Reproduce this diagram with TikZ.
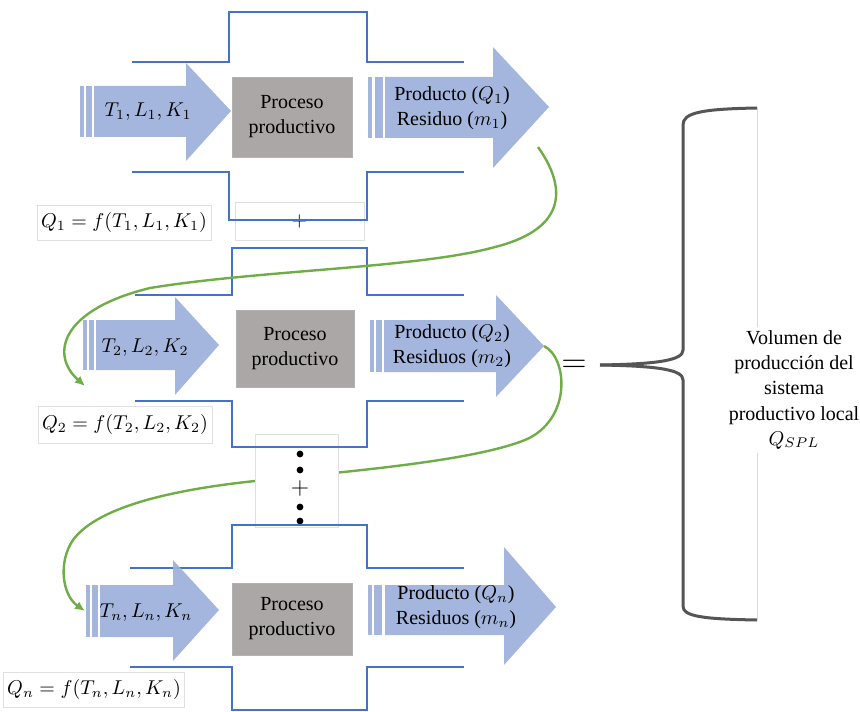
\documentclass[tikz,border=0pt]{standalone}
\usepackage{fontspec}
\setmainfont{Liberation Serif}
\usetikzlibrary{arrows.meta,positioning,calc}

\definecolor{flowblue}{RGB}{157,176,219}
\definecolor{lineblue}{RGB}{68,114,196}
\definecolor{boxgrey}{RGB}{171,167,166}
\definecolor{linkgreen}{RGB}{112,173,71}
\definecolor{bracegrey}{RGB}{85,85,85}

\begin{document}
\begin{tikzpicture}[
        x=0.5pt, y=-0.5pt,
        font=\fontsize{10}{12.5}\selectfont,
        procsty/.style={
            draw=black!30, fill=boxgrey, rectangle,
            minimum width=60pt, minimum height=40pt,
            align=center, inner sep=0pt,
        },
        flowsty/.style={fill=flowblue, fill opacity=0.92},
        wallsty/.style={draw=lineblue, line width=1.1pt},
        eqsty/.style={
            draw=black!12, rectangle,
            minimum height=18pt, inner sep=2pt,
        },
        sumsty/.style={draw=black!12, rectangle, inner sep=0pt},
        linksty/.style={draw=linkgreen, line width=1.2pt, -{Latex[length=5pt,width=4.5pt]}},
        bracesty/.style={draw=bracegrey, line width=1.5pt},
        txtsty/.style={align=center, inner sep=0pt},
    ]
    \useasboundingbox (0,0) rectangle (860,711);

    % faint box with the sum sign between block 1 and block 2
    \node[sumsty, minimum width=64.5pt, minimum height=19pt] (sum1) at (299.5,221) {$+$};

    % walls of block 1 and upper wall of block 2
    \draw[wallsty] (132,62) -- (229,62) -- (229,12) -- (367,12) -- (367,62) -- (464,62);
    \draw[wallsty] (132,172) -- (229,172) -- (229,220) -- (367,220) -- (367,172) -- (464,172);
    \draw[wallsty] (135,295) -- (232,295) -- (232,248) -- (367,248) -- (367,295) -- (464,295);

    % links from one output to the next input
    \coordinate (out1low) at (538,147);
    \coordinate (in2end) at (85,386);
    \coordinate (out2tip) at (544,346);
    \coordinate (in3end) at (85,611);
    \draw[linksty] (out1low) .. controls (565,185) and (570,228) .. (495,247)
        .. controls (420,268) and (260,270) .. (150,288)
        .. controls (60,310) and (50,355) .. (in2end);
    \draw[linksty] (out2tip) .. controls (568,358) and (572,420) .. (525,440)
        .. controls (470,462) and (340,472) .. (255,481)
        .. controls (160,491) and (95,510) .. (73,540)
        .. controls (58,562) and (62,595) .. (in3end);

    % the dots between block 2 and block n
    \node[sumsty, fill=white, minimum width=41.5pt, minimum height=46.5pt] (more) at (296.5,480.5) {};
    \fill (300,454) circle (1.7pt);
    \fill (300,470) circle (1.7pt);
    \node (sum2) at (300,488) {\large $+$};
    \fill (300,507) circle (1.7pt);
    \fill (300,521) circle (1.7pt);

    % remaining walls
    \draw[wallsty] (135,401) -- (232,401) -- (232,447) -- (367,447) -- (367,401) -- (464,401);
    \draw[wallsty] (130,568) -- (232,568) -- (232,525) -- (367,525) -- (367,568) -- (464,568);
    \draw[wallsty] (130,667) -- (232,667) -- (232,710) -- (367,710) -- (367,667) -- (464,667);

    % input arrows
    \fill[flowsty] (80,86) rectangle (84,137);
    \fill[flowsty] (86,86) rectangle (92,137);
    \fill[flowsty] (94,86) -- (186,86) -- (186,63) -- (231,111) -- (186,161) -- (186,137) -- (94,137) -- cycle;
    \fill[flowsty] (83,320) rectangle (87,370);
    \fill[flowsty] (89,320) rectangle (94,370);
    \fill[flowsty] (96,320) -- (175,320) -- (175,297) -- (219,345) -- (175,395) -- (175,370) -- (96,370) -- cycle;
    \fill[flowsty] (86,585) rectangle (90,637);
    \fill[flowsty] (92,585) rectangle (98,637);
    \fill[flowsty] (100,585) -- (173,585) -- (173,560) -- (219,610) -- (173,661) -- (173,637) -- (100,637) -- cycle;

    % output arrows
    \fill[flowsty] (368,77) rectangle (372,138);
    \fill[flowsty] (375,77) rectangle (383,138);
    \fill[flowsty] (385,77) -- (493,77) -- (493,47) -- (549,107) -- (493,168) -- (493,138) -- (385,138) -- cycle;
    \fill[flowsty] (370,320) rectangle (374,372);
    \fill[flowsty] (376,320) rectangle (382,372);
    \fill[flowsty] (384,320) -- (496,320) -- (496,295) -- (544,346) -- (496,397) -- (496,372) -- (384,372) -- cycle;
    \fill[flowsty] (368,585) rectangle (372,635);
    \fill[flowsty] (374,585) rectangle (382,635);
    \fill[flowsty] (385,585) -- (504,585) -- (504,547) -- (556,607) -- (504,665) -- (504,635) -- (385,635) -- cycle;

    % processes
    \node[procsty] (proc1) at (292,117) {Proceso\\productivo};
    \node[procsty, minimum width=59pt, minimum height=38.5pt] (proc2) at (295,348.5) {Proceso\\productivo};
    \node[procsty, minimum height=36pt] (proc3) at (292,619) {Proceso\\productivo};

    % arrow texts
    \node[txtsty] (in1) at (148,112) {$T_1, L_1, K_1$};
    \node[txtsty] (in2) at (145,348) {$T_2, L_2, K_2$};
    \node[txtsty] (in3) at (146,613) {$T_n, L_n, K_n$};
    \node[txtsty] (out1) at (452,108) {Producto ($Q_1$)\\Residuo ($m_1$)};
    \node[txtsty] (out2) at (452,346) {Producto ($Q_2$)\\Residuos ($m_2$)};
    \node[txtsty] (out3) at (456,607) {Producto ($Q_n$)\\Residuos ($m_n$)};

    % production functions
    \node[eqsty, minimum width=86pt, minimum height=17.5pt] (q1) at (124,222.5) {$Q_1 = f(T_1, L_1, K_1)$};
    \node[eqsty, minimum width=87pt, minimum height=18.5pt] (q2) at (125,424.5) {$Q_2 = f(T_2, L_2, K_2)$};
    \node[eqsty, minimum width=89pt, minimum height=17.5pt] (qn) at (94,689.5) {$Q_n = f(T_n, L_n, K_n)$};

    % total
    \node (equal) at (574,366) {\fontsize{16}{18}\selectfont $=$};
    \draw[bracesty] (757,108) .. controls (700,109) and (683,113) .. (683,125) -- (683,350)
        .. controls (683,360) and (660,364) .. (600,365);
    \draw[bracesty] (600,365) .. controls (660,366) and (683,370) .. (683,380) -- (683,606)
        .. controls (683,616) and (700,619) .. (757,620);
    \draw[black!15] (757,108) -- (757,620);
    \node[fill=white, align=center, inner sep=2pt] (total) at (794,390)
        {Volumen de\\producción del\\sistema\\productivo local\\$Q_{SPL}$};
\end{tikzpicture}
\end{document}
